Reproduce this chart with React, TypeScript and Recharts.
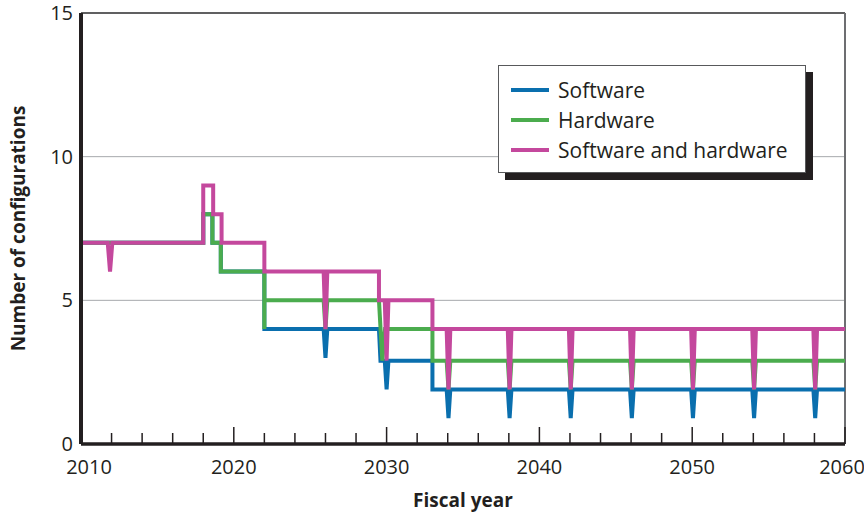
import React from 'react';
import { LineChart, Line, XAxis, YAxis, CartesianGrid, ReferenceLine } from 'recharts';

const FONT = '"Open Sans", "Noto Sans", sans-serif';
const INK = '#231f20';

// x ticks every two fiscal years, labelled every ten
const xTicks = [
  2010, 2012, 2014, 2016, 2018, 2020, 2022, 2024, 2026, 2028, 2030, 2032, 2034, 2036, 2038, 2040,
  2042, 2044, 2046, 2048, 2050, 2052, 2054, 2056, 2058, 2060,
];
const yTicks = [0, 5, 10, 15];

const software = [
  { year: 2010, value: 7 },
  { year: 2018, value: 7 },
  { year: 2018, value: 8 },
  { year: 2018.6, value: 8 },
  { year: 2018.6, value: 7 },
  { year: 2019.15, value: 7 },
  { year: 2019.15, value: 6 },
  { year: 2022, value: 6 },
  { year: 2022, value: 4 },
  { year: 2025.88, value: 4 },
  { year: 2026, value: 3 },
  { year: 2026.12, value: 4 },
  { year: 2029.5, value: 4 },
  { year: 2029.6, value: 2.9 },
  { year: 2029.88, value: 2.9 },
  { year: 2030, value: 1.9 },
  { year: 2030.12, value: 2.9 },
  { year: 2033, value: 2.9 },
  { year: 2033, value: 1.9 },
  { year: 2033.93, value: 1.9 },
  { year: 2034.05, value: 0.9 },
  { year: 2034.17, value: 1.9 },
  { year: 2037.93, value: 1.9 },
  { year: 2038.05, value: 0.9 },
  { year: 2038.17, value: 1.9 },
  { year: 2041.93, value: 1.9 },
  { year: 2042.05, value: 0.9 },
  { year: 2042.17, value: 1.9 },
  { year: 2045.93, value: 1.9 },
  { year: 2046.05, value: 0.9 },
  { year: 2046.17, value: 1.9 },
  { year: 2049.93, value: 1.9 },
  { year: 2050.05, value: 0.9 },
  { year: 2050.17, value: 1.9 },
  { year: 2053.93, value: 1.9 },
  { year: 2054.05, value: 0.9 },
  { year: 2054.17, value: 1.9 },
  { year: 2057.93, value: 1.9 },
  { year: 2058.05, value: 0.9 },
  { year: 2058.17, value: 1.9 },
  { year: 2060, value: 1.9 },
];

const hardware = [
  { year: 2010, value: 7 },
  { year: 2018, value: 7 },
  { year: 2018, value: 8 },
  { year: 2018.6, value: 8 },
  { year: 2018.6, value: 7 },
  { year: 2019.15, value: 7 },
  { year: 2019.15, value: 6 },
  { year: 2022, value: 6 },
  { year: 2022, value: 4 },
  { year: 2022, value: 5 },
  { year: 2025.88, value: 5 },
  { year: 2026, value: 4 },
  { year: 2026.12, value: 5 },
  { year: 2029.5, value: 5 },
  { year: 2029.72, value: 2.9 },
  { year: 2029.9, value: 4 },
  { year: 2033, value: 4 },
  { year: 2033, value: 2.9 },
  { year: 2033.93, value: 2.9 },
  { year: 2034.05, value: 1.9 },
  { year: 2034.17, value: 2.9 },
  { year: 2037.93, value: 2.9 },
  { year: 2038.05, value: 1.9 },
  { year: 2038.17, value: 2.9 },
  { year: 2041.93, value: 2.9 },
  { year: 2042.05, value: 1.9 },
  { year: 2042.17, value: 2.9 },
  { year: 2045.93, value: 2.9 },
  { year: 2046.05, value: 1.9 },
  { year: 2046.17, value: 2.9 },
  { year: 2049.93, value: 2.9 },
  { year: 2050.05, value: 1.9 },
  { year: 2050.17, value: 2.9 },
  { year: 2053.93, value: 2.9 },
  { year: 2054.05, value: 1.9 },
  { year: 2054.17, value: 2.9 },
  { year: 2057.93, value: 2.9 },
  { year: 2058.05, value: 1.9 },
  { year: 2058.17, value: 2.9 },
  { year: 2060, value: 2.9 },
];

const softwareAndHardware = [
  { year: 2010, value: 7 },
  { year: 2011.75, value: 7 },
  { year: 2011.9, value: 6 },
  { year: 2012.05, value: 7 },
  { year: 2018, value: 7 },
  { year: 2018, value: 9 },
  { year: 2018.65, value: 9 },
  { year: 2018.65, value: 8 },
  { year: 2019.2, value: 8 },
  { year: 2019.2, value: 7 },
  { year: 2022, value: 7 },
  { year: 2022, value: 6 },
  { year: 2025.88, value: 6 },
  { year: 2026, value: 4 },
  { year: 2026.12, value: 6 },
  { year: 2029.5, value: 6 },
  { year: 2029.5, value: 5 },
  { year: 2029.88, value: 5 },
  { year: 2030, value: 2.9 },
  { year: 2030.12, value: 5 },
  { year: 2033, value: 5 },
  { year: 2033, value: 4 },
  { year: 2033.93, value: 4 },
  { year: 2034.05, value: 1.9 },
  { year: 2034.17, value: 4 },
  { year: 2037.93, value: 4 },
  { year: 2038.05, value: 1.9 },
  { year: 2038.17, value: 4 },
  { year: 2041.93, value: 4 },
  { year: 2042.05, value: 1.9 },
  { year: 2042.17, value: 4 },
  { year: 2045.93, value: 4 },
  { year: 2046.05, value: 1.9 },
  { year: 2046.17, value: 4 },
  { year: 2049.93, value: 4 },
  { year: 2050.05, value: 1.9 },
  { year: 2050.17, value: 4 },
  { year: 2053.93, value: 4 },
  { year: 2054.05, value: 1.9 },
  { year: 2054.17, value: 4 },
  { year: 2057.93, value: 4 },
  { year: 2058.05, value: 1.9 },
  { year: 2058.17, value: 4 },
  { year: 2060, value: 4 },
];

const seriesNames = ['Software', 'Hardware', 'Software and hardware'];
const seriesColors = ['#0a6fae', '#4bac4e', '#c4489d'];
const seriesData = [software, hardware, softwareAndHardware];

const XTick = (props: any) => {
  const { x, y, payload } = props;
  const v = payload.value;
  const major = v % 10 === 0;
  let dx = 0;
  if (v === 2010) dx = 8;
  if (v === 2060) dx = -3;
  return (
    <g>
      <line x1={x} x2={x} y1={y} y2={y - (major ? 17 : 11)} stroke={INK} strokeWidth={1.5} />
      {major && (
        <text x={x + dx} y={y + 30} textAnchor="middle" fontSize={20} fill={INK} fontFamily={FONT}>
          {v}
        </text>
      )}
    </g>
  );
};

const LegendBox = () => (
  <div
    style={{
      position: 'absolute',
      left: 498,
      top: 65,
      width: 308,
      height: 108,
      boxSizing: 'border-box',
      border: '1.5px solid #58595b',
      background: '#fff',
      boxShadow: '7px 7px 0 #231f20',
      padding: '9px 0 0 12px',
      fontFamily: FONT,
    }}
  >
    {seriesNames.map((name, i) => (
      <div key={name} style={{ display: 'flex', alignItems: 'center', height: 30 }}>
        <span style={{ display: 'inline-block', width: 38, height: 4, background: seriesColors[i], marginRight: 9 }} />
        <span style={{ fontSize: 21, color: INK, lineHeight: '30px' }}>{name}</span>
      </div>
    ))}
  </div>
);

export default function App() {
  return (
    <div style={{ position: 'absolute', left: 0, top: 0, width: 864, height: 514, background: '#fff' }}>
      <LineChart width={864} height={514} margin={{ top: 13, right: 19, left: 0, bottom: 0 }}>
        <CartesianGrid vertical={false} stroke="#a7a9ac" strokeWidth={1} />
        <XAxis
          type="number"
          dataKey="year"
          domain={[2010, 2060]}
          ticks={xTicks}
          interval={0}
          height={70}
          tickLine={false}
          tickSize={0}
          tickMargin={0}
          tick={<XTick />}
          axisLine={{ stroke: INK, strokeWidth: 3.5 }}
          allowDataOverflow
          label={{
            value: 'Fiscal year',
            position: 'insideBottom',
            offset: 7,
            style: { fontSize: 19, fontWeight: 700, fill: INK, fontFamily: FONT },
          }}
        />
        <YAxis
          type="number"
          domain={[0, 15]}
          ticks={yTicks}
          interval={0}
          width={81}
          tickLine={false}
          tickSize={0}
          tickMargin={8}
          tick={{ fontSize: 20, fill: INK, fontFamily: FONT }}
          axisLine={{ stroke: INK, strokeWidth: 4 }}
          label={{
            value: 'Number of configurations',
            angle: -90,
            position: 'insideLeft',
            offset: 18,
            style: { fontSize: 19, fontWeight: 700, fill: INK, fontFamily: FONT, textAnchor: 'middle' },
          }}
        />
        <ReferenceLine y={15} stroke="#3a3a3a" strokeWidth={1.5} />
        <ReferenceLine x={2060} stroke="#6d6e71" strokeWidth={2} />
        {seriesData.map((d, i) => (
          <Line
            key={seriesNames[i]}
            data={d}
            dataKey="value"
            name={seriesNames[i]}
            type="linear"
            stroke={seriesColors[i]}
            strokeWidth={4}
            dot={false}
            activeDot={false}
            isAnimationActive={false}
          />
        ))}
      </LineChart>
      <LegendBox />
    </div>
  );
}
